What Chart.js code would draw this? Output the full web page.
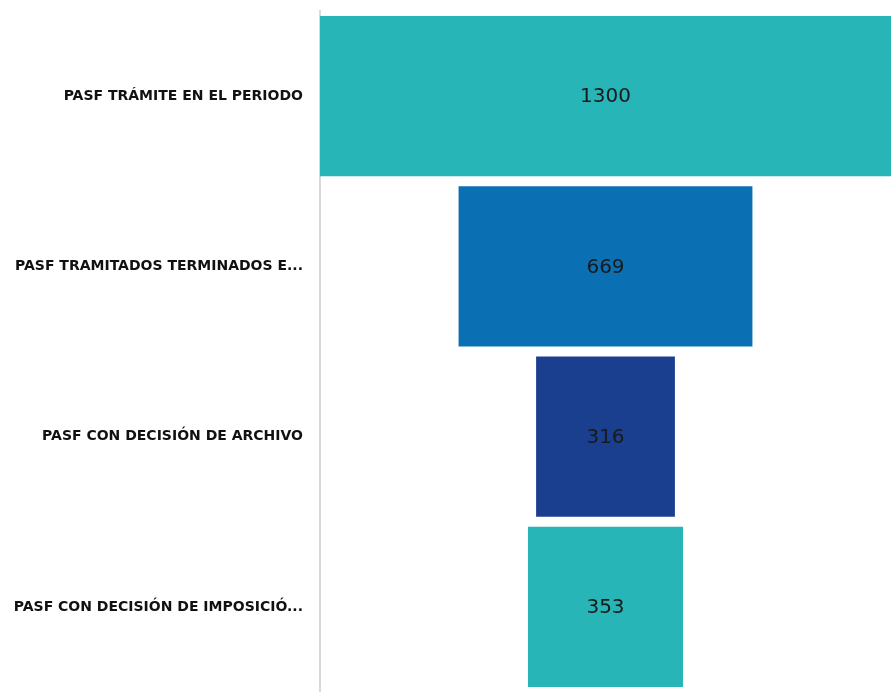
<!DOCTYPE html>
<html>
<head>
<meta charset="utf-8">
<script src="https://cdn.jsdelivr.net/npm/chart.js@4"></script>
<style>
    html, body { margin: 0; padding: 0; background: #fff; overflow: hidden; }
    canvas { display: block; }
</style>
</head>
<body>
<canvas id="embudoChart" width="891" height="692"></canvas>
<script>
// Datos del embudo
const etapas = [
    'PASF TRÁMITE EN EL PERIODO',
    'PASF TRAMITADOS TERMINADOS E...',
    'PASF CON DECISIÓN DE ARCHIVO',
    'PASF CON DECISIÓN DE IMPOSICIÓ...'
];
const valores = [1300, 669, 316, 353];
const colores = ['#27b5b7', '#0b6fb3', '#1a3f8f', '#27b5b7'];

// Cada barra centrada en cero
const barras = valores.map(v => [-v / 2, v / 2]);

// Texto del valor en el centro de cada barra
const etiquetasValor = {
    id: 'etiquetasValor',
    afterDatasetsDraw(chart) {
        const ctx = chart.ctx;
        const meta = chart.getDatasetMeta(0);
        ctx.save();
        ctx.font = '20px "DejaVu Sans", sans-serif';
        ctx.fillStyle = '#1a1a1a';
        ctx.textAlign = 'center';
        ctx.textBaseline = 'middle';
        meta.data.forEach((bar, i) => {
            const x = chart.scales.x.getPixelForValue(0);
            ctx.fillText(String(valores[i]), x, bar.y + 1);
        });
        ctx.restore();
    }
};

new Chart(document.getElementById('embudoChart'), {
    type: 'bar',
    data: {
        labels: etapas,
        datasets: [{
            data: barras,
            backgroundColor: colores,
            borderWidth: 0,
            categoryPercentage: 1,
            barPercentage: 0.94
        }]
    },
    options: {
        indexAxis: 'y',
        responsive: false,
        animation: false,
        layout: { padding: { top: 11, right: 0, bottom: 0, left: 0 } },
        plugins: {
            legend: { display: false },
            tooltip: { enabled: false }
        },
        scales: {
            x: {
                display: false,
                min: -650,
                max: 650
            },
            y: {
                afterFit(scale) {
                    scale.width = 320;
                    scale.paddingTop = 0;
                    scale.paddingBottom = 0;
                },
                grid: { display: false, drawTicks: false },
                border: { display: true, color: '#d9d9d9', width: 2 },
                ticks: {
                    padding: 17,
                    color: '#111',
                    font: { family: '"DejaVu Sans", sans-serif', size: 14, weight: 'bold' }
                }
            }
        }
    },
    plugins: [etiquetasValor]
});
</script>
</body>
</html>
